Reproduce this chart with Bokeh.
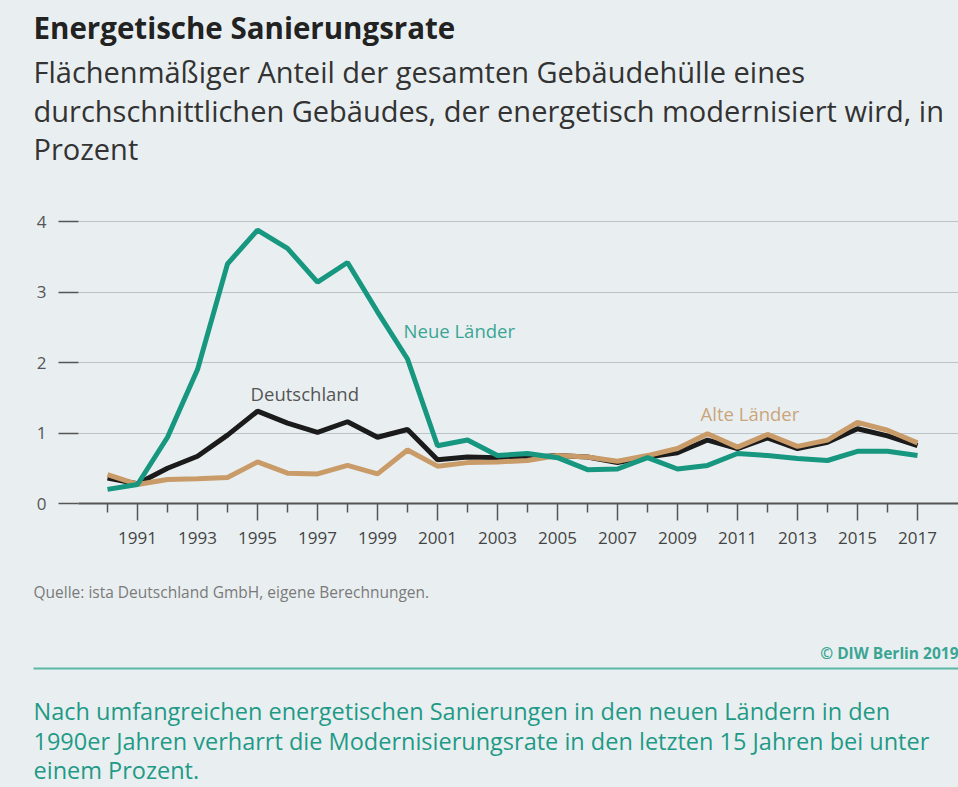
from bokeh.plotting import figure
from bokeh.layouts import column
from bokeh.models import Label, FixedTicker, Range1d, BoxAnnotation
from bokeh.embed import file_html
from bokeh.resources import INLINE

# ---- data ----
years = list(range(1990, 2018))
neue_laender = [0.20, 0.27, 0.94, 1.90, 3.40, 3.88, 3.62, 3.14, 3.42, 2.72, 2.05, 0.82,
                0.90, 0.68, 0.71, 0.65, 0.48, 0.49, 0.65, 0.49, 0.54, 0.71, 0.68, 0.64,
                0.61, 0.74, 0.74, 0.68]
deutschland = [0.36, 0.28, 0.50, 0.67, 0.97, 1.31, 1.14, 1.01, 1.16, 0.94, 1.05, 0.62,
               0.66, 0.65, 0.65, 0.68, 0.66, 0.58, 0.66, 0.72, 0.90, 0.78, 0.93, 0.78,
               0.87, 1.06, 0.96, 0.82]
alte_laender = [0.41, 0.27, 0.34, 0.35, 0.37, 0.59, 0.43, 0.42, 0.54, 0.42, 0.76, 0.53,
                0.58, 0.59, 0.61, 0.68, 0.66, 0.60, 0.68, 0.78, 0.99, 0.80, 0.98, 0.81,
                0.90, 1.15, 1.04, 0.86]
x_major_ticks = list(range(1991, 2018, 2))
x_minor_ticks = list(range(1990, 2018, 2))
y_ticks = [0, 1, 2, 3, 4]

title = "Energetische Sanierungsrate"
subtitle_lines = ["Flächenmäßiger Anteil der gesamten Gebäudehülle eines",
                  "durchschnittlichen Gebäudes, der energetisch modernisiert wird, in",
                  "Prozent"]
source = "Quelle: ista Deutschland GmbH, eigene Berechnungen."
copyright_text = "© DIW Berlin 2019"
footer_lines = ["Nach umfangreichen energetischen Sanierungen in den neuen Ländern in den",
                "1990er Jahren verharrt die Modernisierungsrate in den letzten 15 Jahren bei unter",
                "einem Prozent."]

BG = "#e9eff1"
TEAL = "#17977f"
TAN = "#c99b69"
BLACK = "#1b1b1b"
FONT = "Open Sans"
W = 958


def text_panel(height, y_top):
    f = figure(width=W, height=height, output_backend="svg", toolbar_location=None,
               x_range=Range1d(0, W), y_range=Range1d(y_top + height, y_top),
               x_axis_type=None, y_axis_type=None, frame_align=False,
               min_border=0, background_fill_color=BG, border_fill_color=BG,
               outline_line_color=None)
    return f


def add_text(f, txt, x, y, size, color, style="normal", align="left"):
    f.add_layout(Label(x=x, y=y, text=txt, text_font=FONT, text_font_size=size,
                       text_color=color, text_font_style=style, text_align=align,
                       text_baseline="alphabetic"))


# ---- header ----
header = text_panel(190, 0)
add_text(header, title, 33, 27, "29.5px", "#222222", style="bold")
for line, yb in zip(subtitle_lines, [71, 110, 148]):
    add_text(header, line, 33, yb, "29px", "#333333")

# ---- chart ----
p = figure(width=W, height=380, output_backend="svg", toolbar_location=None,
           x_range=Range1d(1989.033, 2018.367), y_range=Range1d(0, 4.2),
           frame_align=False,
           min_border_left=78, min_border_right=0, min_border_top=17, min_border_bottom=67,
           background_fill_color=BG, border_fill_color=BG, outline_line_color=None)

p.xaxis.ticker = FixedTicker(ticks=x_major_ticks, minor_ticks=x_minor_ticks)
p.xaxis.axis_line_color = "#555555"
p.xaxis.axis_line_width = 2
p.xaxis.major_tick_in = 0
p.xaxis.major_tick_out = 17
p.xaxis.minor_tick_in = 0
p.xaxis.minor_tick_out = 9
p.xaxis.major_tick_line_color = "#555555"
p.xaxis.minor_tick_line_color = "#555555"
p.xaxis.major_tick_line_width = 1.5
p.xaxis.minor_tick_line_width = 1.5
p.xaxis.major_label_standoff = 11
p.xaxis.major_label_text_font = FONT
p.xaxis.major_label_text_font_size = "17px"
p.xaxis.major_label_text_color = "#444444"

p.yaxis.ticker = FixedTicker(ticks=y_ticks, minor_ticks=[])
p.yaxis.axis_line_color = None
p.yaxis.major_tick_in = 0
p.yaxis.major_tick_out = 20
p.yaxis.major_tick_line_color = "#555555"
p.yaxis.major_tick_line_width = 1.5
p.yaxis.major_label_standoff = 12
p.yaxis.major_label_text_font = FONT
p.yaxis.major_label_text_font_size = "17px"
p.yaxis.major_label_text_color = "#555555"

p.xgrid.grid_line_color = None
p.ygrid.ticker = FixedTicker(ticks=y_ticks)
p.ygrid.grid_line_color = "#bcc3c7"
p.ygrid.grid_line_width = 1

p.line(years, deutschland, line_color=BLACK, line_width=5)
p.line(years, alte_laender, line_color=TAN, line_width=5)
p.line(years, neue_laender, line_color=TEAL, line_width=5)

p.add_layout(Label(x=1999.87, y=2.45, text="Neue Länder", text_baseline="middle",
                   text_font=FONT, text_font_size="18.5px", text_color="#3aa593"))
p.add_layout(Label(x=1994.77, y=1.56, text="Deutschland", text_baseline="middle",
                   text_font=FONT, text_font_size="18.5px", text_color="#555555"))
p.add_layout(Label(x=2009.77, y=1.28, text="Alte Länder", text_baseline="middle",
                   text_font=FONT, text_font_size="18.5px", text_color="#caa57c"))

# ---- footer ----
footer = text_panel(217, 570)
add_text(footer, source, 33, 591, "15.5px", "#7a7a7a")
add_text(footer, copyright_text, 958, 652, "15.5px", "#3aa593", style="bold", align="right")
footer.add_layout(BoxAnnotation(left=33, right=W, top=667, bottom=669,
                                fill_color="#5bb8a8", fill_alpha=1.0, line_color=None))
for line, yb in zip(footer_lines, [710, 740, 769]):
    add_text(footer, line, 33, yb, "23.5px", "#1f9a86")

layout = column(header, p, footer, spacing=0, styles={"background-color": BG})
open("out.html", "w").write(file_html(layout, INLINE))
